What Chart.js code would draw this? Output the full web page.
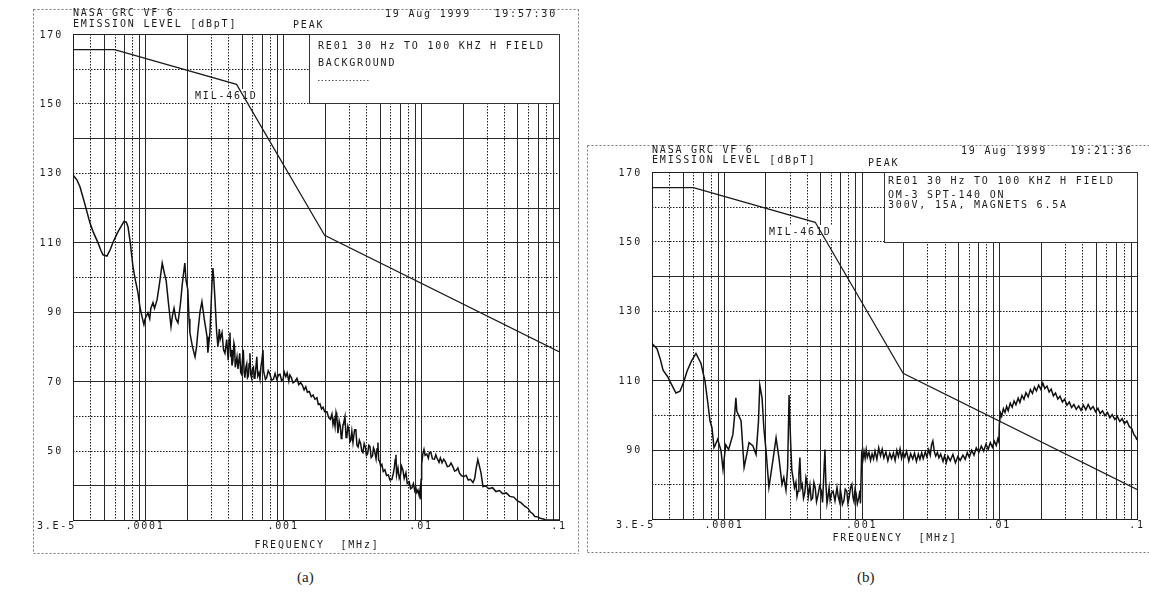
<!DOCTYPE html>
<html>
<head>
<meta charset="utf-8">
<title>RE01 magnetic field emission plots</title>
<script src="https://cdn.jsdelivr.net/npm/chart.js@4.4.1/dist/chart.umd.min.js"></script>
<style>
  html, body { margin: 0; padding: 0; background: #fff; }
  body { width: 1149px; height: 604px; position: relative; overflow: hidden; }
  #wrapA { position: absolute; left: 0; top: 0; width: 590px; height: 560px; }
  #wrapB { position: absolute; left: 585px; top: 140px; width: 564px; height: 420px; }
  .caption { position: absolute; top: 569px; font: 15px "Liberation Serif", "DejaVu Serif", serif; color: #222; }
</style>
</head>
<body>
<div id="wrapA"><canvas id="chartA"></canvas></div>
<div id="wrapB"><canvas id="chartB"></canvas></div>
<div class="caption" style="left:297px">(a)</div>
<div class="caption" style="left:857px">(b)</div>
<script>
// ============================================================
// Frequency axis (MHz), same for both plots
// ============================================================
const gridFreqs = [3e-5, 4e-5, 5e-5, 6e-5, 7e-5, 8e-5, 9e-5,
    1e-4, 2e-4, 3e-4, 4e-4, 5e-4, 6e-4, 7e-4, 8e-4, 9e-4,
    1e-3, 2e-3, 3e-3, 4e-3, 5e-3, 6e-3, 7e-3, 8e-3, 9e-3,
    1e-2, 2e-2, 3e-2, 4e-2, 5e-2, 6e-2, 7e-2, 8e-2, 9e-2, 1e-1];
const freqTickValues = [3e-5, 1e-4, 1e-3, 1e-2, 1e-1];
const freqTickLabels = ['3.E-5', '.0001', '.001', '.01', '.1'];

// emission level labels (dBpT)
const levelLabelsA = [170, 150, 130, 110, 90, 70, 50];
const levelLabelsB = [170, 150, 130, 110, 90];

// MIL-STD-461D limit line, [MHz, dBpT]
const milLimit = [[3e-5, 165.5], [6e-5, 165.5], [4.6e-4, 155.5], [2e-3, 112], [0.1, 78.5]];

// (a) background scan, [MHz, dBpT]
const backgroundScan = [
    [3.0e-5, 129.4], [3.2e-5, 128], [3.37e-5, 126], [3.6e-5, 122], [3.98e-5, 115.6], [4.2e-5, 113],
    [4.55e-5, 109.9], [4.8e-5, 107.5], [4.95e-5, 106.4], [5.29e-5, 106], [5.6e-5, 108], [5.85e-5, 110],
    [6.35e-5, 113], [7.03e-5, 116], [7.3e-5, 115.8], [7.51e-5, 114.5], [7.8e-5, 110], [8.16e-5, 103],
    [8.5e-5, 99], [8.87e-5, 95.5], [9.2e-5, 91], [9.49e-5, 88.6], [9.8e-5, 86.3], [1.0e-4, 88],
    [1.048e-4, 89.7], [1.08e-4, 88], [1.1e-4, 91], [1.14e-4, 92.6], [1.17e-4, 91], [1.22e-4, 93.4],
    [1.27e-4, 98], [1.33e-4, 104], [1.38e-4, 101], [1.42e-4, 99], [1.48e-4, 92], [1.54e-4, 85.7],
    [1.58e-4, 89], [1.62e-4, 91], [1.67e-4, 88], [1.73e-4, 86.8], [1.8e-4, 92], [1.86e-4, 98],
    [1.94e-4, 104], [1.98e-4, 99], [2.04e-4, 96.3], [2.08e-4, 88], [2.11e-4, 84], [2.2e-4, 80],
    [2.3e-4, 77], [2.36e-4, 80], [2.41e-4, 84], [2.5e-4, 90], [2.58e-4, 92.9], [2.68e-4, 88],
    [2.81e-4, 82.8], [2.85e-4, 78.2], [2.95e-4, 84], [3.05e-4, 98], [3.1e-4, 102.6], [3.15e-4, 99],
    [3.21e-4, 93.4], [3.3e-4, 84], [3.37e-4, 80], [3.45e-4, 85], [3.5e-4, 82], [3.61e-4, 84],
    [3.7e-4, 79], [3.79e-4, 78], [3.9e-4, 82], [4.0e-4, 76], [4.06e-4, 82], [4.12e-4, 84],
    [4.17e-4, 77], [4.2e-4, 79], [4.26e-4, 74.5], [4.33e-4, 76], [4.4e-4, 81], [4.45e-4, 80],
    [4.5e-4, 74], [4.55e-4, 74], [4.63e-4, 77], [4.71e-4, 73.5], [4.78e-4, 76], [4.85e-4, 78],
    [4.93e-4, 72.5], [5.0e-4, 72], [5.07e-4, 76], [5.15e-4, 79], [5.22e-4, 72.5], [5.29e-4, 71],
    [5.37e-4, 74], [5.45e-4, 75], [5.52e-4, 71], [5.6e-4, 71.5], [5.67e-4, 75], [5.75e-4, 78],
    [5.82e-4, 72], [5.9e-4, 71], [6.0e-4, 73.5], [6.1e-4, 74], [6.17e-4, 70.8], [6.25e-4, 71],
    [6.35e-4, 74], [6.45e-4, 77], [6.55e-4, 71.5], [6.68e-4, 72.4], [6.8e-4, 70.6], [6.9e-4, 74],
    [7.02e-4, 76], [7.15e-4, 79], [7.22e-4, 73], [7.3e-4, 72], [7.45e-4, 70.5], [7.6e-4, 71],
    [7.8e-4, 73], [8.03e-4, 72], [8.25e-4, 70.3], [8.5e-4, 70.5], [8.75e-4, 72.2], [9.02e-4, 70.4],
    [9.25e-4, 71.8], [9.5e-4, 72], [9.75e-4, 70.2], [1.0e-3, 70.5], [1.02e-3, 72.6], [1.047e-3, 71.3],
    [1.07e-3, 72.4], [1.1e-3, 70], [1.12e-3, 71.8], [1.15e-3, 71], [1.18e-3, 69.5], [1.22e-3, 69.9],
    [1.26e-3, 70.8], [1.3e-3, 69], [1.34e-3, 69.6], [1.38e-3, 68.8], [1.42e-3, 67.5], [1.46e-3, 68.4],
    [1.5e-3, 66.8], [1.55e-3, 67], [1.6e-3, 65.5], [1.65e-3, 66], [1.7e-3, 64.8], [1.76e-3, 65.2],
    [1.8e-3, 63.3], [1.85e-3, 63.5], [1.9e-3, 62], [1.95e-3, 62.5], [2.0e-3, 61.2], [2.08e-3, 61.2],
    [2.14e-3, 59.5], [2.2e-3, 59], [2.26e-3, 60.5], [2.3e-3, 57.5], [2.34e-3, 59], [2.38e-3, 56.9],
    [2.42e-3, 61], [2.45e-3, 60], [2.5e-3, 55], [2.55e-3, 58.5], [2.6e-3, 57], [2.64e-3, 53.5],
    [2.67e-3, 54], [2.72e-3, 57.5], [2.75e-3, 58], [2.81e-3, 59.8], [2.86e-3, 53.8], [2.9e-3, 54],
    [2.95e-3, 57], [3.0e-3, 56], [3.05e-3, 52.5], [3.1e-3, 53], [3.15e-3, 55.5], [3.21e-3, 52.3],
    [3.26e-3, 54.5], [3.3e-3, 56], [3.37e-3, 56], [3.43e-3, 51.5], [3.5e-3, 51], [3.57e-3, 53],
    [3.65e-3, 52], [3.72e-3, 49.8], [3.79e-3, 49.4], [3.87e-3, 52], [3.95e-3, 51], [4.02e-3, 48.6],
    [4.1e-3, 49], [4.18e-3, 51.5], [4.26e-3, 51.2], [4.35e-3, 48], [4.45e-3, 48.5], [4.52e-3, 50.8],
    [4.6e-3, 50], [4.72e-3, 47.6], [4.8e-3, 50.5], [4.87e-3, 52.3], [4.93e-3, 47.2], [5.0e-3, 47],
    [5.1e-3, 45.5], [5.2e-3, 46], [5.32e-3, 44], [5.47e-3, 44.5], [5.62e-3, 42.8], [5.8e-3, 43],
    [5.95e-3, 41.5], [6.15e-3, 41.7], [6.3e-3, 43.5], [6.4e-3, 45], [6.5e-3, 47.5], [6.58e-3, 48.8],
    [6.65e-3, 43], [6.8e-3, 45], [6.95e-3, 42], [7.1e-3, 43], [7.22e-3, 45.5], [7.38e-3, 44.5],
    [7.55e-3, 42], [7.77e-3, 43.6], [7.95e-3, 40.5], [8.2e-3, 41], [8.4e-3, 39], [8.59e-3, 39.3],
    [8.8e-3, 40.5], [9.0e-3, 38.5], [9.15e-3, 39.5], [9.33e-3, 37.9], [9.5e-3, 38.6], [9.7e-3, 37],
    [9.85e-3, 39], [9.98e-3, 35.9], [1.0e-2, 41.7], [1.01e-2, 46], [1.03e-2, 49], [1.05e-2, 50.3],
    [1.07e-2, 48.6], [1.1e-2, 49], [1.13e-2, 47.8], [1.15e-2, 49.5], [1.18e-2, 49.4], [1.21e-2, 47.6],
    [1.25e-2, 47.5], [1.28e-2, 48.8], [1.3e-2, 48], [1.35e-2, 46.6], [1.38e-2, 47.9], [1.42e-2, 46.5],
    [1.46e-2, 47.5], [1.5e-2, 46.8], [1.55e-2, 45.4], [1.6e-2, 45.5], [1.65e-2, 46.4], [1.7e-2, 45.4],
    [1.75e-2, 44.1], [1.8e-2, 44.3], [1.85e-2, 45], [1.9e-2, 43.5], [1.96e-2, 42.8], [2.04e-2, 42.5],
    [2.12e-2, 42.9], [2.2e-2, 41.5], [2.28e-2, 41.7], [2.38e-2, 40.8], [2.45e-2, 42], [2.5e-2, 44.5],
    [2.58e-2, 47.4], [2.65e-2, 45.5], [2.72e-2, 43.6], [2.81e-2, 39.6], [2.95e-2, 39.8], [3.1e-2, 39],
    [3.3e-2, 39.3], [3.49e-2, 38.2], [3.7e-2, 38.5], [3.9e-2, 37.6], [4.15e-2, 37.8], [4.4e-2, 36.8],
    [4.7e-2, 36.6], [5.0e-2, 35.5], [5.3e-2, 35], [5.66e-2, 33.9], [5.95e-2, 33.4], [6.2e-2, 32.3],
    [6.45e-2, 31.8], [6.68e-2, 31], [7.0e-2, 30.9], [7.3e-2, 30.5], [7.7e-2, 30.3], [8.03e-2, 30],
    [9.0e-2, 30], [0.1, 30]
];

// (b) OM-3 SPT-140 on, [MHz, dBpT]
const thrusterOnScan = [
    [3.0e-5, 120.6], [3.26e-5, 119.1], [3.45e-5, 116], [3.61e-5, 112.9], [3.9e-5, 111], [4.12e-5, 109.1],
    [4.48e-5, 106.3], [4.79e-5, 106.8], [5.1e-5, 109.5], [5.39e-5, 112.6], [5.8e-5, 115.5], [6.26e-5, 117.7],
    [6.8e-5, 114.9], [7.28e-5, 109.7], [7.6e-5, 104], [7.91e-5, 98.3], [8.18e-5, 96.3], [8.46e-5, 90.6],
    [8.6e-5, 91.1], [9.0e-5, 93], [9.51e-5, 89.7], [9.84e-5, 84.3], [1.03e-4, 91.4], [1.08e-4, 90],
    [1.16e-4, 94.3], [1.19e-4, 99], [1.22e-4, 104.9], [1.24e-4, 101], [1.33e-4, 98.3], [1.4e-4, 84.9],
    [1.47e-4, 89], [1.52e-4, 92], [1.62e-4, 91.1], [1.71e-4, 88.6], [1.78e-4, 98], [1.82e-4, 108.6],
    [1.89e-4, 104.9], [1.95e-4, 96], [2.02e-4, 89.7], [2.12e-4, 79.1], [2.25e-4, 86], [2.39e-4, 93.4],
    [2.5e-4, 88], [2.64e-4, 80], [2.72e-4, 82], [2.82e-4, 78.3], [2.9e-4, 85], [2.97e-4, 105.7],
    [3.05e-4, 92], [3.11e-4, 84], [3.17e-4, 82], [3.25e-4, 79], [3.33e-4, 80.6], [3.39e-4, 76.5],
    [3.45e-4, 78], [3.5e-4, 83], [3.56e-4, 87.7], [3.63e-4, 79], [3.7e-4, 80], [3.78e-4, 76],
    [3.87e-4, 77.7], [3.94e-4, 82], [4.0e-4, 81], [4.1e-4, 76.5], [4.21e-4, 79.7], [4.3e-4, 75.5],
    [4.4e-4, 76], [4.5e-4, 80.5], [4.6e-4, 79], [4.7e-4, 75], [4.82e-4, 76.9], [4.95e-4, 79.5],
    [5.1e-4, 78], [5.2e-4, 74.8], [5.3e-4, 82], [5.41e-4, 90], [5.5e-4, 80], [5.6e-4, 74.5],
    [5.69e-4, 76.3], [5.8e-4, 79], [5.9e-4, 75.5], [6.05e-4, 77.5], [6.2e-4, 78], [6.4e-4, 75.2],
    [6.62e-4, 79.1], [6.75e-4, 76.5], [6.9e-4, 75], [7.0e-4, 78.5], [7.1e-4, 77], [7.25e-4, 74.2],
    [7.44e-4, 75.4], [7.6e-4, 78.6], [7.8e-4, 78], [7.95e-4, 74.6], [8.1e-4, 76], [8.3e-4, 79],
    [8.49e-4, 80], [8.65e-4, 76.2], [8.8e-4, 75], [8.95e-4, 78.5], [9.1e-4, 77.5], [9.3e-4, 74.4],
    [9.55e-4, 76.3], [9.7e-4, 78.2], [9.8e-4, 74.5], [1.0e-3, 88.6], [1.02e-3, 87], [1.04e-3, 89.5],
    [1.06e-3, 87.5], [1.08e-3, 90], [1.1e-3, 87.8], [1.13e-3, 89.2], [1.16e-3, 86.9], [1.19e-3, 88.8],
    [1.22e-3, 87.3], [1.25e-3, 89.6], [1.29e-3, 87.2], [1.33e-3, 90.5], [1.37e-3, 88.2], [1.41e-3, 90.1],
    [1.45e-3, 87.6], [1.5e-3, 89.3], [1.55e-3, 86.8], [1.6e-3, 88.9], [1.65e-3, 87.4], [1.7e-3, 89],
    [1.75e-3, 86.9], [1.8e-3, 89.8], [1.85e-3, 88], [1.9e-3, 90.2], [1.95e-3, 87.5], [2.0e-3, 89.3],
    [2.06e-3, 87.9], [2.12e-3, 89.5], [2.2e-3, 86.7], [2.27e-3, 88.8], [2.35e-3, 87.3], [2.42e-3, 89],
    [2.5e-3, 86.6], [2.58e-3, 88.7], [2.65e-3, 87.2], [2.73e-3, 89.1], [2.8e-3, 87.4], [2.9e-3, 89.4],
    [2.98e-3, 87.9], [3.07e-3, 90], [3.15e-3, 88.4], [3.22e-3, 91.4], [3.29e-3, 92.5], [3.37e-3, 89.5],
    [3.45e-3, 88.1], [3.55e-3, 89.2], [3.64e-3, 87.6], [3.75e-3, 88.7], [3.9e-3, 86.6], [4.0e-3, 88.2],
    [4.12e-3, 86.3], [4.23e-3, 88.1], [4.4e-3, 86.8], [4.6e-3, 88.6], [4.8e-3, 86.2], [5.0e-3, 88],
    [5.2e-3, 86.9], [5.44e-3, 88.4], [5.65e-3, 87.2], [5.85e-3, 89.1], [6.05e-3, 87.8], [6.3e-3, 89.8],
    [6.55e-3, 88.4], [6.8e-3, 90.5], [7.1e-3, 89.2], [7.4e-3, 91], [7.7e-3, 89.6], [8.0e-3, 91.6],
    [8.3e-3, 90.1], [8.6e-3, 92], [8.9e-3, 90.7], [9.2e-3, 92.4], [9.5e-3, 91.2], [9.75e-3, 93.1],
    [9.93e-3, 92.2], [1.0e-2, 97.1], [1.02e-2, 100.5], [1.04e-2, 99.6], [1.07e-2, 101.8], [1.1e-2, 100.7],
    [1.13e-2, 102.5], [1.16e-2, 101.2], [1.2e-2, 103.4], [1.24e-2, 102.2], [1.28e-2, 104], [1.32e-2, 102.9],
    [1.37e-2, 104.8], [1.41e-2, 103.6], [1.46e-2, 105.6], [1.51e-2, 104.5], [1.56e-2, 106.4], [1.62e-2, 105.2],
    [1.68e-2, 107.3], [1.74e-2, 106.2], [1.8e-2, 108], [1.86e-2, 106.9], [1.93e-2, 108.6], [2.0e-2, 107.4],
    [2.07e-2, 109.2], [2.14e-2, 107.6], [2.22e-2, 108.3], [2.3e-2, 106.6], [2.38e-2, 107.4], [2.47e-2, 105.5],
    [2.56e-2, 106.3], [2.66e-2, 104.6], [2.76e-2, 105.4], [2.87e-2, 103.7], [2.98e-2, 104.5], [3.1e-2, 102.8],
    [3.22e-2, 103.7], [3.35e-2, 102.1], [3.48e-2, 103], [3.62e-2, 101.6], [3.77e-2, 102.6], [3.92e-2, 101.3],
    [4.08e-2, 102.8], [4.25e-2, 101.5], [4.42e-2, 103], [4.6e-2, 101.6], [4.8e-2, 102.4], [5.0e-2, 100.9],
    [5.2e-2, 101.9], [5.4e-2, 100.4], [5.62e-2, 101.2], [5.85e-2, 99.8], [6.1e-2, 100.7], [6.35e-2, 99.2],
    [6.6e-2, 100.1], [6.9e-2, 98.7], [7.2e-2, 99.5], [7.5e-2, 98.1], [7.8e-2, 98.9], [8.1e-2, 97.5],
    [8.45e-2, 98.2], [8.8e-2, 96.6], [9.15e-2, 96.1], [9.5e-2, 94.3], [9.75e-2, 93.8], [0.1, 92.8]
];

// ============================================================
// Plotter-style decoration (grid, frame, header texts)
// ============================================================
const PLOT_FONT = '10px "DejaVu Sans Mono", monospace';
const INK = '#1c1c1c';

function line(ctx, x1, y1, x2, y2) {
    ctx.beginPath();
    ctx.moveTo(x1, y1);
    ctx.lineTo(x2, y2);
    ctx.stroke();
}

function makeDecor(d) {
    return {
        id: 'plotterDecor',
        beforeDatasetsDraw(chart) {
            const { ctx, chartArea: a, scales: { x, y } } = chart;
            ctx.save();
            ctx.lineWidth = 1;

            // dotted page frame
            ctx.strokeStyle = '#777';
            ctx.setLineDash([2, 2]);
            d.frame.forEach(s => line(ctx, s[0] + 0.5, s[1] + 0.5, s[2] + 0.5, s[3] + 0.5));

            // vertical grid on every 1..9 x decade
            gridFreqs.forEach(f => {
                const px = Math.round(x.getPixelForValue(f)) + 0.5;
                const m = Math.round(f / Math.pow(10, Math.floor(Math.log10(f) + 1e-9)));
                const solid = m === 1 || m === 2 || m === 5 || m === 7 || m === 9;
                ctx.setLineDash(solid ? [] : [1.5, 1.5]);
                ctx.strokeStyle = solid ? '#2a2a2a' : '#1a1a1a';
                line(ctx, px, a.top, px, a.bottom);
            });

            // horizontal grid every 10 dB
            const solidLevels = [140, 120, 110, 90, 70, 40];
            for (let v = y.min; v <= y.max; v += 10) {
                const py = Math.round(y.getPixelForValue(v)) + 0.5;
                const solid = solidLevels.includes(v);
                ctx.setLineDash(solid ? [] : [1.5, 1.5]);
                ctx.strokeStyle = solid ? '#2a2a2a' : '#1a1a1a';
                line(ctx, a.left, py, a.right, py);
            }

            // plot border
            ctx.setLineDash([]);
            ctx.strokeStyle = '#1e1e1e';
            ctx.strokeRect(Math.round(a.left) + 0.5, Math.round(a.top) + 0.5,
                Math.round(a.right - a.left), Math.round(a.bottom - a.top));

            // test description box
            const b = d.box;
            ctx.fillStyle = '#fff';
            ctx.fillRect(b.x, b.y, b.w, b.h);
            ctx.strokeStyle = '#333';
            ctx.strokeRect(b.x + 0.5, b.y + 0.5, b.w, b.h);

            // white patch behind limit label
            ctx.font = PLOT_FONT;
            ctx.letterSpacing = '1.8px';
            const lw = ctx.measureText('MIL-461D').width;
            ctx.fillStyle = '#fff';
            ctx.fillRect(d.milLabel[0] - 3, d.milLabel[1] - 7, lw + 5, 14);
            ctx.restore();
        },
        afterDatasetsDraw(chart) {
            const { ctx, chartArea: a, scales: { x, y } } = chart;
            ctx.save();
            ctx.font = PLOT_FONT;
            ctx.letterSpacing = '1.8px';
            ctx.fillStyle = INK;
            ctx.textBaseline = 'middle';

            // y labels
            ctx.textAlign = 'right';
            d.levels.forEach(v => ctx.fillText(String(v), a.left - 10, y.getPixelForValue(v) + 1));

            // x labels
            freqTickValues.forEach((f, i) => {
                const px = x.getPixelForValue(f);
                if (i === 0) {
                    ctx.textAlign = 'right';
                    ctx.fillText(freqTickLabels[i], px + 3, a.bottom + 6);
                } else {
                    ctx.textAlign = 'center';
                    ctx.fillText(freqTickLabels[i], px, a.bottom + 6);
                }
            });

            ctx.textAlign = 'center';
            ctx.fillText('FREQUENCY  [MHz]', d.freqTitle[0], d.freqTitle[1]);

            ctx.textAlign = 'left';
            d.texts.forEach(t => ctx.fillText(t[0], t[1], t[2]));
            ctx.textAlign = 'right';
            ctx.fillText(d.date, d.dateAt[0], d.dateAt[1]);

            ctx.textAlign = 'left';
            ctx.fillText('MIL-461D', d.milLabel[0], d.milLabel[1]);

            if (d.sample) {
                ctx.strokeStyle = '#555';
                ctx.setLineDash([1.5, 2]);
                line(ctx, d.sample[0], d.sample[2] + 0.5, d.sample[1], d.sample[2] + 0.5);
            }
            ctx.restore();
        }
    };
}

function makePlot(canvasId, cfg) {
    return new Chart(document.getElementById(canvasId), {
        type: 'line',
        data: {
            datasets: [{
                label: 'MIL-461D',
                data: milLimit.map(p => ({ x: p[0], y: p[1] })),
                borderColor: '#1a1a1a',
                borderWidth: 1.2,
                pointRadius: 0,
                tension: 0
            }, {
                label: cfg.traceLabel,
                data: cfg.trace.map(p => ({ x: p[0], y: p[1] })),
                borderColor: '#111',
                borderWidth: 1.5,
                pointRadius: 0,
                tension: 0
            }]
        },
        options: {
            responsive: true,
            maintainAspectRatio: false,
            animation: false,
            events: [],
            layout: { padding: cfg.padding },
            plugins: {
                legend: { display: false },
                tooltip: { enabled: false }
            },
            scales: {
                x: {
                    type: 'logarithmic',
                    min: 3e-5,
                    max: 0.1,
                    ticks: { display: false },
                    grid: { display: false },
                    border: { display: false },
                    afterFit: s => { s.height = cfg.xAxisHeight; }
                },
                y: {
                    min: cfg.yMin,
                    max: 170,
                    ticks: { display: false, stepSize: 10 },
                    grid: { display: false },
                    border: { display: false },
                    afterFit: s => { s.width = cfg.yAxisWidth; }
                }
            }
        },
        plugins: [makeDecor(cfg.decor)]
    });
}

// --- (a) Background ---
makePlot('chartA', {
    traceLabel: 'BACKGROUND',
    trace: backgroundScan,
    yMin: 30,
    padding: { top: 34, right: 31, left: 0, bottom: 0 },
    yAxisWidth: 73,
    xAxisHeight: 40,
    decor: {
        frame: [[33, 9, 578, 9], [33, 9, 33, 553], [33, 553, 578, 553], [578, 9, 578, 553]],
        levels: levelLabelsA,
        box: { x: 309, y: 34, w: 250, h: 69 },
        texts: [
            ['NASA GRC VF 6', 73, 13],
            ['EMISSION LEVEL [dBpT]', 73, 24],
            ['PEAK', 293, 25],
            ['RE01 30 Hz TO 100 KHZ H FIELD', 318, 46],
            ['BACKGROUND', 318, 63]
        ],
        sample: [318, 370, 80],
        date: '19 Aug 1999   19:57:30',
        dateAt: [557, 14],
        milLabel: [195, 96],
        freqTitle: [317, 545]
    }
});

// --- (b) Thruster on ---
makePlot('chartB', {
    traceLabel: 'OM-3 SPT-140 ON',
    trace: thrusterOnScan,
    yMin: 70,
    padding: { top: 32, right: 12, left: 0, bottom: 0 },
    yAxisWidth: 67,
    xAxisHeight: 41,
    decor: {
        frame: [[2, 5, 564, 5], [2, 5, 2, 412], [2, 412, 564, 412]],
        levels: levelLabelsB,
        box: { x: 299, y: 32, w: 253, h: 70 },
        texts: [
            ['NASA GRC VF 6', 67, 10],
            ['EMISSION LEVEL [dBpT]', 67, 20],
            ['PEAK', 283, 23],
            ['RE01 30 Hz TO 100 KHZ H FIELD', 303, 41],
            ['OM-3 SPT-140 ON', 303, 55],
            ['300V, 15A, MAGNETS 6.5A', 303, 65]
        ],
        sample: null,
        date: '19 Aug 1999   19:21:36',
        dateAt: [548, 11],
        milLabel: [184, 92],
        freqTitle: [310, 398]
    }
});
</script>
</body>
</html>
